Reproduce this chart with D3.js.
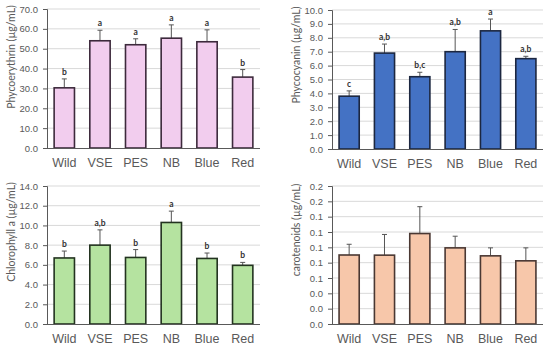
<!DOCTYPE html>
<html>
<head>
<meta charset="utf-8">
<script src="https://cdn.jsdelivr.net/npm/d3@7"></script>
<style>
  body { margin: 0; background: #fff; }
  svg { font-family: Lato, Calibri, "Liberation Sans", sans-serif; }
</style>
</head>
<body>
<div id="chart"></div>
<script>
// categories shared by all four panels
var groups = ["Wild", "VSE", "PES", "NB", "Blue", "Red"];

// phycoerythrin
var peMean = [30.3, 54.0, 52.0, 55.3, 53.5, 35.7];
var peErr  = [4.5, 5.3, 3.0, 6.7, 6.0, 3.8];
var peLetters = ["b", "a", "a", "a", "a", "b"];

// phycocyanin
var pcMean = [3.8, 6.9, 5.2, 7.0, 8.5, 6.5];
var pcErr  = [0.38, 0.65, 0.32, 1.6, 0.85, 0.17];
var pcLetters = ["c", "a,b", "b,c", "a,b", "a", "a,b"];

// chlorophyll a
var chlMean = [6.7, 8.0, 6.75, 10.3, 6.65, 5.95];
var chlErr  = [0.7, 1.55, 0.8, 1.15, 0.55, 0.3];
var chlLetters = ["b", "a,b", "b", "a", "b", "b"];

// carotenoids
var carMean = [0.090, 0.0898, 0.118, 0.0993, 0.0889, 0.0824];
var carErr  = [0.014, 0.027, 0.035, 0.0152, 0.0104, 0.0169];

var panels = [
  {title: "Phycoerythrin (\u00b5g/mL)", mean: peMean, err: peErr, letters: peLetters,
   max: 70, step: 10, left: 47, right: 260, top: 9, bottom: 148, titleX: 11, titleY: 57,
   fill: "#f2cdee", stroke: "#3d2a3c"},
  {title: "Phycocyanin (\u00b5g/mL)", mean: pcMean, err: pcErr, letters: pcLetters,
   max: 10, step: 1, left: 332, right: 543, top: 10, bottom: 149, titleX: 296, titleY: 55,
   fill: "#4472c4", stroke: "#1c2740"},
  {title: "Chlorophyll a (\u00b5g/mL)", mean: chlMean, err: chlErr, letters: chlLetters,
   max: 14, step: 2, left: 47, right: 260, top: 186, bottom: 324, titleX: 11, titleY: 232,
   fill: "#b5e3a0", stroke: "#233320"},
  {title: "carotenoids (\u00b5g/mL)", mean: carMean, err: carErr, letters: null,
   max: 0.18, step: 0.02, left: 332, right: 543, top: 186, bottom: 324, titleX: 296, titleY: 230,
   fill: "#f7c7aa", stroke: "#4a3833"}
];

var svg = d3.select("#chart").append("svg")
    .attr("width", 550)
    .attr("height", 350);

panels.forEach(function(p) {
  var x = d3.scaleBand().domain(groups).range([p.left, p.right]).paddingInner(0.43).paddingOuter(0.2);
  var y = d3.scaleLinear().domain([0, p.max]).range([p.bottom, p.top]);
  var ticks = d3.range(0, p.max + p.step / 2, p.step);

  var g = svg.append("g");

  // gridlines
  g.append("g").selectAll("line")
      .data(ticks.slice(1))
    .enter().append("line")
      .attr("x1", p.left).attr("x2", p.right)
      .attr("y1", function(d) { return y(d); })
      .attr("y2", function(d) { return y(d); })
      .attr("stroke", "#d9d9d9")
      .attr("stroke-width", 1);

  // error bars (upper only)
  g.append("g").selectAll("line")
      .data(groups)
    .enter().append("line")
      .attr("x1", function(d) { return x(d) + x.bandwidth() / 2; })
      .attr("x2", function(d) { return x(d) + x.bandwidth() / 2; })
      .attr("y1", function(d, i) { return y(p.mean[i]); })
      .attr("y2", function(d, i) { return y(p.mean[i] + p.err[i]); })
      .attr("stroke", "#555")
      .attr("stroke-width", 1);
  g.append("g").selectAll("line")
      .data(groups)
    .enter().append("line")
      .attr("x1", function(d) { return x(d) + x.bandwidth() / 2 - 2.5; })
      .attr("x2", function(d) { return x(d) + x.bandwidth() / 2 + 2.5; })
      .attr("y1", function(d, i) { return y(p.mean[i] + p.err[i]); })
      .attr("y2", function(d, i) { return y(p.mean[i] + p.err[i]); })
      .attr("stroke", "#555")
      .attr("stroke-width", 1);

  // bars
  g.append("g").selectAll("rect")
      .data(groups)
    .enter().append("rect")
      .attr("x", function(d) { return x(d); })
      .attr("width", x.bandwidth())
      .attr("y", function(d, i) { return y(p.mean[i]); })
      .attr("height", function(d, i) { return y(0) - y(p.mean[i]); })
      .attr("fill", p.fill)
      .attr("stroke", p.stroke)
      .attr("stroke-width", 1.6);

  // significance letters
  if (p.letters) {
    g.append("g").selectAll("text")
        .data(groups)
      .enter().append("text")
        .attr("x", function(d) { return x(d) + x.bandwidth() / 2; })
        .attr("y", function(d, i) { return y(p.mean[i] + p.err[i]) - 4; })
        .attr("text-anchor", "middle")
        .attr("font-size", "8.5px")
        .attr("font-weight", "bold")
        .attr("fill", "#333333")
        .text(function(d, i) { return p.letters[i]; });
  }

  // y axis
  var yAxis = g.append("g")
      .attr("transform", "translate(" + p.left + ",0)")
      .call(d3.axisLeft(y).tickValues(ticks).tickFormat(d3.format(".1f")).tickSize(4).tickPadding(5));
  yAxis.select(".domain").attr("stroke", "#595959");
  yAxis.selectAll(".tick line").attr("stroke", "#595959");
  yAxis.selectAll(".tick text").attr("font-size", "9.5px").attr("fill", "#595959");

  // x axis
  var xAxis = g.append("g")
      .attr("transform", "translate(0," + p.bottom + ")")
      .call(d3.axisBottom(x).tickSize(0).tickPadding(10));
  xAxis.select(".domain").attr("stroke", "#595959").attr("d", "M" + p.left + ",0.5H" + p.right);
  xAxis.selectAll(".tick text").attr("font-size", "12.5px").attr("fill", "#595959");

  // axis title
  g.append("text")
      .attr("transform", "translate(" + p.titleX + "," + p.titleY + ") rotate(-90)")
      .attr("text-anchor", "middle")
      .attr("dy", "0.35em")
      .attr("font-size", "10.5px")
      .attr("fill", "#595959")
      .text(p.title);
});
</script>
</body>
</html>
